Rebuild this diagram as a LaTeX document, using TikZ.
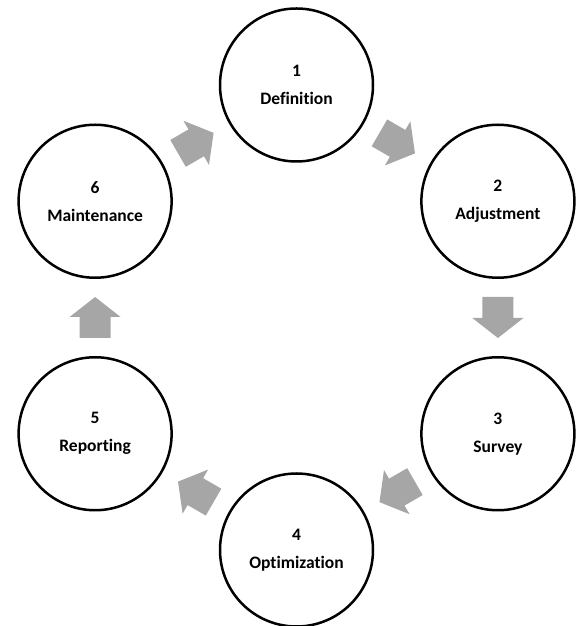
\documentclass[tikz,border=0pt]{standalone}
\usepackage{fontspec}
\setmainfont{Carlito}[RawFeature={-liga;-dlig;-clig}]
\definecolor{arrowgray}{RGB}{166,166,166}
\begin{document}
\begin{tikzpicture}[x=1pt,y=1pt,
  stage/.style={circle, draw=black, line width=2.5pt, minimum size=153pt,
    inner sep=0pt, align=center, font=\bfseries\fontsize{17.5}{28}\selectfont},
  pics/flowarrow/.style={code={
    \fill[arrowgray] (-20.5,-15.5) -- (0.5,-15.5) -- (0.5,-25.5) -- (20.5,0)
      -- (0.5,25.5) -- (0.5,15.5) -- (-20.5,15.5) -- cycle;}}]
\useasboundingbox (0,0) rectangle (579,626);

% six stages on a hexagon
\node[stage] (s1) at (296.5,541)   {1\\Definition};
\node[stage] (s2) at (497.9,424.75) {2\\Adjustment};
\node[stage] (s3) at (497.9,192.25) {3\\Survey};
\node[stage] (s4) at (296.5,76)    {4\\Optimization};
\node[stage] (s5) at (95.1,192.25)  {5\\Reporting};
\node[stage] (s6) at (95.1,424.75)  {6\\Maintenance};

% block arrows between consecutive stages
\begin{scope}[allow upside down]
\path (s1) -- (s2) pic[midway, sloped] {flowarrow};
\path (s2) -- (s3) pic[midway, sloped] {flowarrow};
\path (s3) -- (s4) pic[midway, sloped] {flowarrow};
\path (s4) -- (s5) pic[midway, sloped] {flowarrow};
\path (s5) -- (s6) pic[midway, sloped] {flowarrow};
\path (s6) -- (s1) pic[midway, sloped] {flowarrow};
\end{scope}
\end{tikzpicture}
\end{document}
